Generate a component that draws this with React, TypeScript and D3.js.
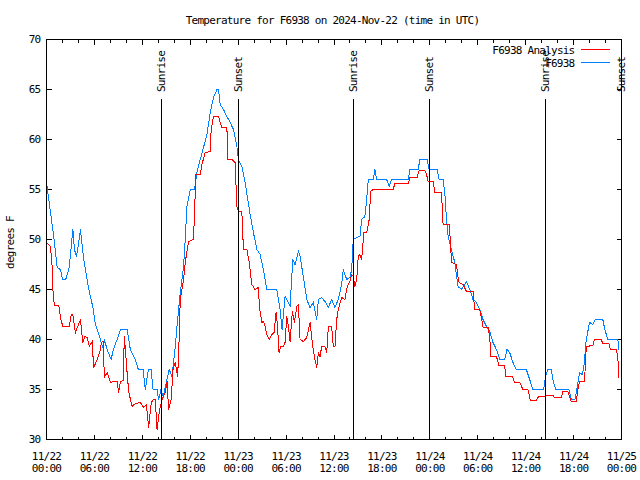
import React from 'react';
import * as d3 from 'd3';

// Observed series "F6938" (hours after 2024-11-22 00:00 UTC, degrees F)
const obsHours = [0, 0.5, 0.91, 1.34, 1.75, 2, 2.4, 2.8, 3, 3.3, 3.5, 3.75, 4, 4.25, 4.66, 5.3, 5.84, 6.12, 6.34, 6.75, 7.12, 7.25, 7.59, 8.09, 8.37, 8.84, 9.25, 10.09, 10.5, 11.12, 11.5, 12.09, 12.37, 12.75, 13.09, 13.34, 13.84, 14.04, 14.34, 14.62, 15.09, 15.37, 15.71, 16.12, 16.34, 16.75, 17.16, 17.37, 17.59, 18, 18.54, 18.84, 19.25, 19.66, 20.09, 20.5, 20.91, 21.34, 21.54, 21.75, 22.16, 22.59, 23, 23.41, 23.84, 24.04, 24.46, 24.87, 25.5, 25.91, 26.34, 26.75, 27.16, 27.59, 28.84, 29.25, 29.5, 29.87, 30.09, 30.5, 30.84, 31.12, 31.54, 31.75, 32.16, 32.59, 33, 33.41, 33.84, 34.04, 34.46, 34.87, 35.29, 35.71, 36.12, 36.54, 36.96, 37.16, 37.59, 38, 38.21, 38.41, 38.84, 39.25, 39.46, 39.87, 40.09, 40.29, 40.91, 41.12, 41.34, 42.59, 42.91, 43.21, 45.29, 45.5, 46.54, 46.75, 47.66, 47.91, 48.91, 49.16, 49.66, 49.87, 50.09, 50.29, 50.71, 51.12, 51.54, 51.96, 52.59, 53, 53.41, 53.84, 54.25, 54.66, 55.09, 55.5, 55.91, 56.34, 56.75, 57.37, 57.66, 58, 58.41, 58.84, 60.09, 60.5, 60.91, 62.25, 62.5, 62.79, 63.21, 63.41, 63.75, 65.41, 65.71, 66.16, 66.41, 66.75, 67.09, 67.29, 67.59, 68, 68.41, 68.71, 69.66, 69.91, 70.29, 71.54, 71.66];
const obsTemps = [55.7, 52.7, 50.3, 47.2, 47, 46, 46, 47, 48.5, 51, 49, 48.3, 49.5, 51, 48, 45, 43.1, 41.5, 41, 40, 39, 40, 39, 38, 39, 40, 41, 41, 39, 38, 37, 37, 35, 37, 37, 35, 35, 34, 35, 34.3, 36, 37, 36.3, 39.3, 41.3, 44.7, 47.3, 50, 53.3, 55, 55, 56.7, 58, 59.2, 60.5, 62.7, 64.2, 65, 65, 63.5, 63, 62.3, 61.7, 61, 59.3, 58, 57.3, 55.7, 52.5, 50.7, 49, 48.5, 47, 45, 45, 43, 41, 44.3, 44, 43.3, 48, 47.5, 48.8, 48.3, 46.3, 44, 43.2, 43.7, 42, 44, 44.2, 43.8, 43.2, 44, 43.2, 44, 45.5, 47, 46, 46.2, 47, 50, 50.2, 50.3, 52, 52.3, 54, 56, 56, 57, 56, 56, 55.3, 56, 56, 57, 57, 58, 58, 57, 57, 56, 56, 54.7, 52, 50.3, 49, 47.7, 45.3, 45, 45.8, 45, 44, 43.7, 43, 42, 41.3, 40.8, 39.7, 39, 38, 38, 39, 38.7, 37.7, 37, 37, 36, 35, 35, 36.3, 37, 37, 36, 35, 35, 34, 34, 35, 36.7, 36.5, 37.3, 40, 41.7, 41.5, 42, 42, 41, 40, 40, 39];

// Analysis series "F6938 Analysis"
const anaHours = [0, 0.5, 0.71, 0.84, 1, 1.54, 1.75, 2.04, 2.87, 3.09, 3.29, 3.62, 3.91, 4.25, 4.54, 4.79, 5.09, 5.37, 5.71, 5.91, 6.34, 6.66, 6.87, 7.09, 7.25, 7.59, 8, 8.41, 8.84, 9.04, 9.25, 9.59, 9.75, 10.09, 10.29, 10.71, 11.12, 11.75, 12.16, 12.5, 12.79, 13.12, 13.41, 13.62, 13.84, 14.12, 14.46, 14.87, 15.09, 15.29, 15.62, 15.84, 16.12, 16.41, 16.54, 16.75, 17.16, 17.37, 17.79, 18.41, 18.71, 19.25, 19.46, 19.87, 20.5, 20.62, 20.91, 21.54, 21.75, 21.96, 22.59, 22.71, 23.21, 23.62, 23.84, 24.04, 24.46, 24.66, 25.09, 25.37, 25.71, 26.12, 26.54, 26.66, 26.96, 27.16, 27.37, 27.59, 27.91, 28.21, 28.5, 28.75, 28.91, 29.12, 29.34, 29.66, 29.87, 30.09, 30.29, 30.5, 30.79, 31.04, 31.34, 31.54, 31.75, 32.16, 32.59, 33, 33.34, 33.62, 33.84, 34.04, 34.25, 34.46, 34.87, 35.09, 35.29, 35.71, 35.91, 36.12, 36.34, 36.54, 36.96, 37.37, 37.66, 38, 38.21, 38.41, 38.62, 38.84, 39.04, 39.25, 39.46, 39.75, 40.09, 40.41, 40.59, 40.91, 43.41, 43.62, 45.29, 45.5, 46.41, 46.66, 47.37, 47.59, 47.79, 48.41, 48.62, 49.46, 49.66, 50.41, 50.59, 50.71, 51.34, 51.54, 51.66, 52.16, 52.59, 53.41, 53.62, 54.25, 54.46, 54.66, 55.29, 55.5, 55.62, 56.34, 56.66, 57.37, 57.5, 58.34, 58.62, 59.25, 59.66, 60.29, 60.59, 61.34, 61.62, 63.41, 63.62, 64.46, 64.66, 65.29, 65.71, 66.34, 66.54, 66.75, 67.37, 67.59, 68.41, 68.62, 69.46, 69.66, 70.41, 70.62, 71.34, 71.54, 71.66];
const anaTemps = [49.7, 49.3, 47.3, 44.3, 43.4, 43.4, 42.2, 41.3, 41.3, 42.5, 42.5, 40.7, 41.3, 42, 39.7, 40.3, 40.2, 39.3, 39.8, 37.2, 38, 38.7, 39.7, 39.8, 36.2, 36.7, 35.7, 35.8, 35.8, 34.7, 35.8, 35.9, 40.3, 36.7, 34.8, 33.3, 33.6, 33.7, 33.2, 33.5, 31.2, 33.7, 34, 34, 31, 32.8, 34, 34.7, 35.8, 33, 34, 37, 37.7, 36.3, 38.3, 44, 46, 47.7, 49.8, 50, 56.5, 56.5, 57.5, 58.7, 58.8, 61, 62.3, 62.3, 61.7, 61.2, 61.2, 58, 58, 57.7, 53.3, 52.8, 52.8, 49, 49, 47.8, 45.5, 45, 45.2, 43.3, 41.7, 41.8, 41.3, 40.5, 40, 40.5, 40.7, 42.7, 41.5, 38.7, 39.3, 39.3, 39.7, 42.3, 41.3, 39.8, 42.8, 41.7, 43.3, 43.5, 40, 39.8, 40.2, 41.7, 39.3, 38, 37.2, 38.7, 38.3, 39.3, 39.3, 38.7, 41.3, 41.3, 39.3, 39.3, 42, 43, 44.2, 44, 45.3, 45.8, 46.5, 46.3, 45.3, 46, 48.3, 48.5, 48, 50.7, 50.7, 52, 54.8, 55, 55, 55.6, 55.6, 56.2, 56.2, 56.9, 56.9, 56.5, 55.8, 55.8, 54.7, 54.7, 51.5, 51.5, 49.7, 47.7, 47.5, 46.2, 45.7, 45.5, 44.8, 44.8, 43, 43, 42.2, 41.2, 41.2, 40.3, 38.3, 38.3, 37.4, 37.4, 36.3, 36.3, 35.7, 35.7, 35, 35, 33.9, 33.9, 34.3, 34.4, 34.2, 34.2, 34.8, 34.8, 33.8, 33.8, 35, 35.8, 35.8, 39.3, 39.4, 40, 40, 39.6, 39.6, 39, 39, 38.3, 36.2];

const sunriseHours = [14.4, 38.44, 62.45];
const sunsetHours = [24.04, 48.0, 71.98];
const yTicks = [30, 35, 40, 45, 50, 55, 60, 65, 70];

const FONT = "'DejaVu Sans Mono', monospace";
const FS = 11;
const LS = -0.75;
const RED = '#ff0000';
const BLUE = '#0080ff';

export default function App() {
  const t0 = Date.UTC(2024, 10, 22);
  const toDate = (h: number) => new Date(t0 + h * 3600e3);
  const x = d3.scaleUtc().domain([toDate(0), toDate(72)]).range([46.5, 621.5]);
  const y = d3.scaleLinear().domain([30, 70]).range([439.5, 39.5]);
  const left = 46.5, right = 621.5, top = 39.5, bottom = 439.5;

  const line = d3
    .line<[number, number]>()
    .x((d) => x(toDate(d[0])))
    .y((d) => y(d[1]));
  const obs: [number, number][] = obsHours.map((h, i) => [h, obsTemps[i]]);
  const ana: [number, number][] = anaHours.map((h, i) => [h, anaTemps[i]]);

  const major = x.ticks(d3.utcHour.every(6) as any);
  const majorSet = new Set(major.map((d) => +d));
  const minor = x.ticks(d3.utcHour.every(2) as any).filter((d) => !majorSet.has(+d));
  const fmtDate = d3.utcFormat('%m/%d');
  const fmtTime = d3.utcFormat('%H:%M');

  const textProps = { fontFamily: FONT, fontSize: FS, letterSpacing: LS, fill: '#000' } as any;

  const sunEvents = [
    ...sunriseHours.map((h) => ({ h, label: 'Sunrise' })),
    ...sunsetHours.map((h) => ({ h, label: 'Sunset' })),
  ];

  return (
    <svg
      width={640}
      height={480}
      style={{ position: 'absolute', left: 0, top: 0, background: '#fff' }}
    >
      <rect x={0} y={0} width={640} height={480} fill="#fff" />
      {/* title */}
      <text {...textProps} x={332.5} y={24} textAnchor="middle">
        Temperature for F6938 on 2024-Nov-22 (time in UTC)
      </text>

      {/* y ticks */}
      {yTicks.map((v) => (
        <g key={'y' + v}>
          <line x1={left} x2={left + 5} y1={y(v)} y2={y(v)} stroke="#000" shapeRendering="crispEdges" />
          <line x1={right} x2={right - 5} y1={y(v)} y2={y(v)} stroke="#000" shapeRendering="crispEdges" />
          <text {...textProps} x={40.5} y={y(v)} dy="0.36em" textAnchor="end">
            {v}
          </text>
        </g>
      ))}

      {/* x ticks */}
      {minor.map((d) => (
        <g key={'m' + +d}>
          <line x1={x(d)} x2={x(d)} y1={bottom} y2={bottom - 3} stroke="#000" shapeRendering="crispEdges" />
          <line x1={x(d)} x2={x(d)} y1={top} y2={top + 3} stroke="#000" shapeRendering="crispEdges" />
        </g>
      ))}
      {major.map((d) => (
        <g key={'M' + +d}>
          <line x1={x(d)} x2={x(d)} y1={bottom} y2={bottom - 5} stroke="#000" shapeRendering="crispEdges" />
          <line x1={x(d)} x2={x(d)} y1={top} y2={top + 5} stroke="#000" shapeRendering="crispEdges" />
          <text {...textProps} x={x(d)} y={459.5} textAnchor="middle">
            {fmtDate(d)}
          </text>
          <text {...textProps} x={x(d)} y={471.5} textAnchor="middle">
            {fmtTime(d)}
          </text>
        </g>
      ))}

      {/* y label */}
      <text {...textProps} transform="translate(14,242.5) rotate(-90)" textAnchor="middle">
        degrees F
      </text>

      {/* data */}
      <path d={line(obs) || ''} fill="none" stroke={BLUE} strokeWidth={1} shapeRendering="crispEdges" />
      <path d={line(ana) || ''} fill="none" stroke={RED} strokeWidth={1} shapeRendering="crispEdges" />

      {/* sunrise / sunset */}
      {sunEvents.map((e) => {
        const sx = Math.round(x(toDate(e.h)) - 0.5) + 0.5;
        return (
          <g key={e.label + e.h}>
            <line x1={sx} x2={sx} y1={99} y2={bottom} stroke="#000" shapeRendering="crispEdges" />
            <text {...textProps} transform={`translate(${sx},92) rotate(-90)`} dy="0.36em" textAnchor="start">
              {e.label}
            </text>
          </g>
        );
      })}

      {/* legend */}
      <text {...textProps} x={574.5} y={53.5} textAnchor="end">
        F6938 Analysis
      </text>
      <line x1={581} x2={610} y1={49.5} y2={49.5} stroke={RED} shapeRendering="crispEdges" />
      <text {...textProps} x={574.5} y={66.5} textAnchor="end">
        F6938
      </text>
      <line x1={581} x2={610} y1={62.5} y2={62.5} stroke={BLUE} shapeRendering="crispEdges" />

      {/* border */}
      <rect x={left} y={top} width={right - left} height={bottom - top} fill="none" stroke="#000" shapeRendering="crispEdges" />
    </svg>
  );
}
